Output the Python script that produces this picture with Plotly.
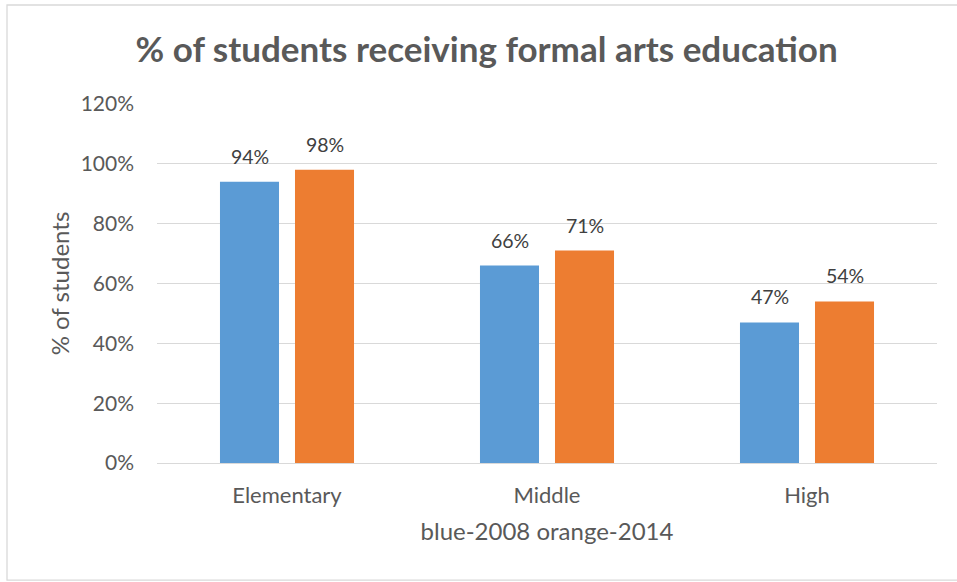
import plotly.graph_objects as go

# School levels and share of students receiving formal arts education
levels = ["Elementary", "Middle", "High"]
share_2008 = [0.94, 0.66, 0.47]
share_2014 = [0.98, 0.71, 0.54]
y_ticks = [0, 0.2, 0.4, 0.6, 0.8, 1.0, 1.2]

BLUE = "#5B9BD5"
ORANGE = "#ED7D31"
TEXT = "#595959"
LABEL = "#404040"
GRID = "#D9D9D9"
FONT = "Lato, 'Open Sans', sans-serif"

fig = go.Figure()
series = [("2008", share_2008, BLUE), ("2014", share_2014, ORANGE)]
for name, vals, color in series:
    fig.add_trace(go.Bar(
        x=levels, y=vals, name=name,
        marker=dict(color=color, line=dict(width=0)),
        offsetgroup=name,
    ))

# value labels above each bar, positioned from the same values
annotations = []
for i, (name, vals, color) in enumerate(series):
    shift = -37.5 if i == 0 else 37.5
    for lvl, v in zip(levels, vals):
        annotations.append(dict(
            x=lvl, y=v, xref="x", yref="y", text=f"{v:.0%}",
            showarrow=False, xanchor="center", yanchor="bottom",
            xshift=shift, yshift=12,
            font=dict(family=FONT, size=19.5, color=LABEL),
        ))

fig.update_layout(
    width=957, height=582,
    margin=dict(l=157, r=20, t=104, b=119),
    paper_bgcolor="white", plot_bgcolor="white",
    barmode="group", bargap=0.423, bargroupgap=0.213,
    showlegend=False,
    font=dict(family=FONT, color=TEXT),
    title=dict(
        text="<b>% of students receiving formal arts education</b>",
        x=0.5085, xanchor="center", y=0.914, yanchor="middle",
        font=dict(family=FONT, size=35, color=TEXT),
    ),
    xaxis=dict(
        showgrid=False, showline=False, ticks="",
        tickfont=dict(size=22, color=TEXT), ticklabelstandoff=17,
        title=dict(text="blue-2008 orange-2014", font=dict(size=24, color=TEXT), standoff=16),
    ),
    yaxis=dict(
        range=[0, 1.2], tickvals=y_ticks, tickformat=".0%",
        showgrid=True, gridcolor=GRID, gridwidth=1.3,
        zeroline=True, zerolinecolor=GRID, zerolinewidth=1.3,
        tickfont=dict(size=21, color=TEXT), ticklabelstandoff=22,
        title=dict(text="% of students", font=dict(size=24, color=TEXT), standoff=4),
    ),
    annotations=annotations,
    shapes=[dict(
        type="rect", xref="paper", yref="paper",
        x0=-0.1923, x1=1.1, y0=-0.326, y1=1.2758,
        line=dict(color=GRID, width=1.3), layer="below",
    )],
)

fig.write_html("out.html")
